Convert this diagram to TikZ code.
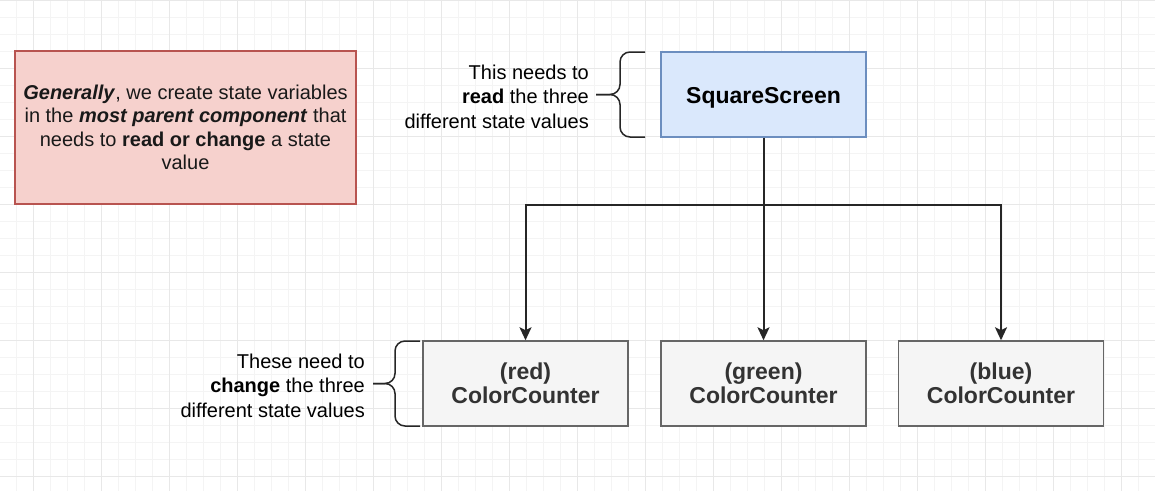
\documentclass[tikz,border=0pt]{standalone}
\usepackage{fontspec}
\setmainfont{Liberation Sans}
\usepackage{tikz}
\usetikzlibrary{arrows.meta}

\definecolor{gridminor}{HTML}{F4F4F4}
\definecolor{gridmajor}{HTML}{E8E8E8}
\definecolor{notefill}{HTML}{F6D1CD}
\definecolor{noteline}{HTML}{B85450}
\definecolor{parentfill}{HTML}{DAE8FC}
\definecolor{parentline}{HTML}{6C8EBF}
\definecolor{childfill}{HTML}{F5F5F5}
\definecolor{childline}{HTML}{666666}
\definecolor{childtext}{HTML}{333333}

\begin{document}
\begin{tikzpicture}[x=1pt, y=-1pt,
		note_style/.style={draw=noteline,fill=notefill,line width=1.5pt,minimum width=341pt,minimum height=153pt,align=center,text=black!90,font=\fontsize{20}{23.5}\selectfont,execute at begin node={\rule{0pt}{21.5pt}}},
		parent_style/.style={draw=parentline,fill=parentfill,line width=1.5pt,minimum width=205pt,minimum height=85pt,font=\bfseries\fontsize{23}{23.5}\selectfont,execute at begin node={\rule{0pt}{23pt}}},
		child_style/.style={draw=childline,fill=childfill,line width=1.5pt,minimum width=205pt,minimum height=85pt,align=center,text=childtext,font=\bfseries\fontsize{23}{23.5}\selectfont,execute at begin node={\rule{0pt}{23pt}}},
		label_style/.style={align=right,anchor=east,inner sep=0pt,font=\fontsize{20}{24.5}\selectfont},
		brace_style/.style={draw=black!85,line width=1.5pt,rounded corners=10pt},
		edge_style/.style={draw=black!85,line width=2pt,-{Stealth[length=13pt,width=12pt,inset=3pt]}}]
		
		\useasboundingbox (0,0) rectangle (1155,491);
		\fill[white] (0,0) rectangle (1155,491);
		
		% grid
		\foreach \gx in {16,33,...,1155} \draw[gridminor,line width=0.8pt] (\gx,0) -- (\gx,491);
		\foreach \gy in {0.7,17.7,...,491} \draw[gridminor,line width=0.8pt] (0,\gy) -- (1155,\gy);
		\foreach \gx in {33,101,...,1155} \draw[gridmajor,line width=0.8pt] (\gx,0) -- (\gx,491);
		\foreach \gy in {0.7,68.7,...,491} \draw[gridmajor,line width=0.8pt] (0,\gy) -- (1155,\gy);
		
		\node[note_style] (note) at (185.5,127.5) {\textbf{\textit{Generally}}, we create state variables\\in the \textbf{\textit{most parent component}} that\\needs to \textbf{read or change} a state\\value};
		
		\node[parent_style] (screen) at (763.5,94.5) {SquareScreen};
		\node[child_style] (redcc) at (525.5,383.5) {(red)\\ColorCounter};
		\node[child_style] (greencc) at (763.5,383.5) {(green)\\ColorCounter};
		\node[child_style] (bluecc) at (1001,383.5) {(blue)\\ColorCounter};
		
		\node[label_style] (readnote) at (589,96.5) {This needs to\\\textbf{read} the three\\different state values};
		\node[label_style] (changenote) at (365,385.5) {These need to\\\textbf{change} the three\\different state values};
		
		% braces
		\draw[brace_style] (645,52) -- (620,52) -- (620,94.5) -- (596,94.5);
		\draw[brace_style] (645,137) -- (620,137) -- (620,94.5) -- (596,94.5);
		\draw[brace_style] (420,341) -- (395,341) -- (395,383.5) -- (373,383.5);
		\draw[brace_style] (420,426) -- (395,426) -- (395,383.5) -- (373,383.5);
		
		% connectors
		\coordinate (split) at (763.5,205);
		\draw[edge_style] (screen) -- (greencc);
		\draw[edge_style] (split) -| (redcc);
		\draw[edge_style] (split) -| (bluecc);
		
\end{tikzpicture}
\end{document}
